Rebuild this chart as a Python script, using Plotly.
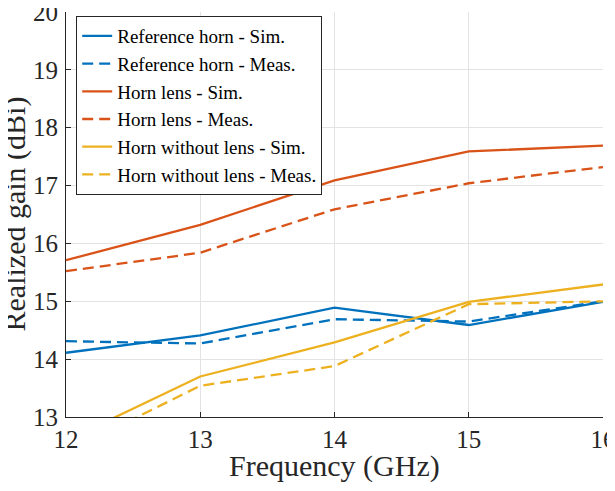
import plotly.graph_objects as go

freq = [12, 13, 14, 15, 16]

ref_sim = [14.11, 14.41, 14.89, 14.59, 14.99]
ref_meas = [14.31, 14.27, 14.69, 14.65, 15.0]
lens_sim = [15.71, 16.32, 17.09, 17.59, 17.69]
lens_meas = [15.52, 15.84, 16.59, 17.04, 17.32]
nolens_sim = [12.59, 13.70, 14.29, 14.99, 15.29]
nolens_meas = [12.39, 13.54, 13.88, 14.95, 15.0]

BLUE = "#0072BD"
ORANGE = "#D95319"
YELLOW = "#EDB120"
FONT = "Liberation Serif"
INK = "#262626"

series = [
    ("Reference horn - Sim.", ref_sim, BLUE, "solid"),
    ("Reference horn - Meas.", ref_meas, BLUE, "11px,6px"),
    ("Horn lens - Sim.", lens_sim, ORANGE, "solid"),
    ("Horn lens - Meas.", lens_meas, ORANGE, "11px,6px"),
    ("Horn without lens - Sim.", nolens_sim, YELLOW, "solid"),
    ("Horn without lens - Meas.", nolens_meas, YELLOW, "11px,6px"),
]

fig = go.Figure()
for name, vals, color, dash in series:
    fig.add_trace(go.Scatter(
        x=freq, y=vals, name=name, mode="lines",
        line=dict(color=color, width=2.3, dash=dash),
    ))

axis_common = dict(
    showgrid=True, gridcolor="#e3e3e3", gridwidth=1,
    showline=True, linecolor=INK, linewidth=1,
    ticks="inside", ticklen=5, tickcolor=INK,
    tickfont=dict(family=FONT, size=25, color=INK),
    zeroline=False, automargin=False, ticklabeloverflow="allow",
)

fig.update_xaxes(range=[12, 16], tickvals=freq, ticklabelstandoff=0, **axis_common)
fig.update_yaxes(range=[13, 20], dtick=1, ticklabelstandoff=2, **axis_common)

# axis titles as annotations so they sit where the reference has them
fig.add_annotation(
    text="Frequency (GHz)", xref="paper", yref="paper", x=0.5, y=0,
    xanchor="center", yanchor="top", yshift=-30, showarrow=False,
    font=dict(family=FONT, size=30, color=INK),
)
fig.add_annotation(
    text="Realized gain (dBi)", xref="paper", yref="paper", x=0, y=0.5,
    xanchor="center", yanchor="middle", xshift=-52, textangle=-90, showarrow=False,
    font=dict(family=FONT, size=30, color=INK),
)

# page body has an 8px margin, so size/margins are offset to keep the plot box in place
fig.update_layout(
    width=607, height=483,
    margin=dict(l=58, r=12, t=4, b=74),
    plot_bgcolor="white", paper_bgcolor="white",
    font=dict(family=FONT, color=INK),
    legend=dict(
        x=0.019, y=0.99, xanchor="left", yanchor="top",
        bgcolor="white", bordercolor=INK, borderwidth=1,
        font=dict(family=FONT, size=19, color="black"),
        tracegroupgap=0,
    ),
)

fig.write_html("out.html")
